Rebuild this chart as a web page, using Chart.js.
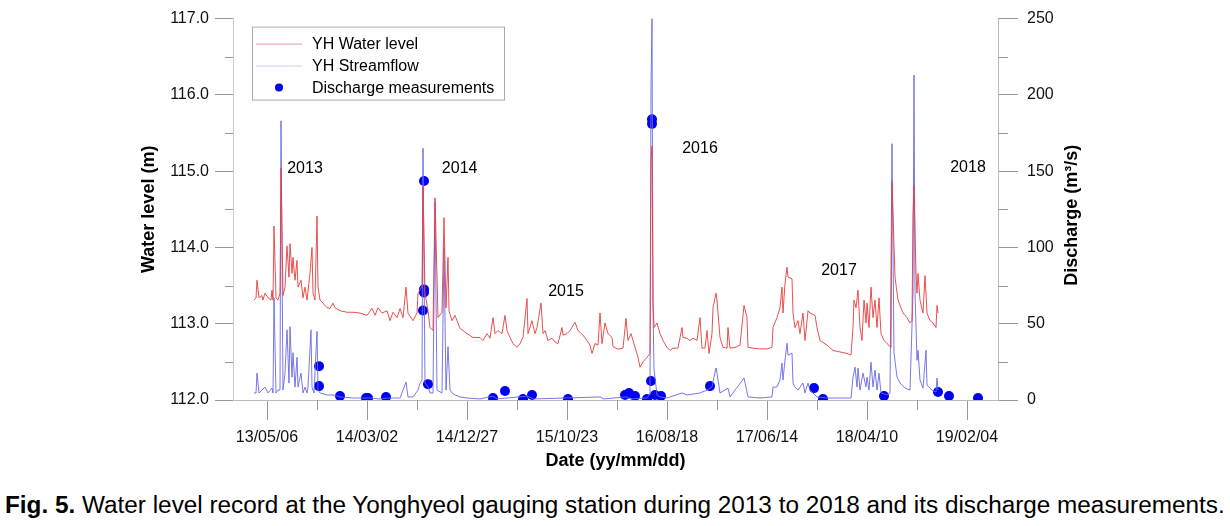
<!DOCTYPE html>
<html>
<head>
<meta charset="utf-8">
<script src="https://cdn.jsdelivr.net/npm/chart.js@4.4.1/dist/chart.umd.min.js"></script>
<style>
  body { margin: 0; background: #fff; }
  #wrap { position: relative; width: 1230px; height: 526px; overflow: hidden; }
  #chart { position: absolute; left: 0; top: 0; }
  #caption {
    position: absolute; left: 5px; top: 492px; white-space: nowrap;
    font: 23px "Liberation Sans", Arial, sans-serif; line-height: 26px; color: #000;
    transform-origin: 0 0;
  }
</style>
</head>
<body>
<div id="wrap">
  <canvas id="chart" width="1230" height="480"></canvas>
  <div id="caption"><b>Fig. 5.</b> Water level record at the Yonghyeol gauging station during 2013 to 2018 and its discharge measurements.</div>
</div>
<script>
// x values are days counted from 2013-05-06 (the first labelled tick)
const DAY0 = Date.UTC(2013, 4, 6);
const xMin = -102, xMax = 2193;
const xTickDays = [0, 300, 600, 900, 1200, 1500, 1800, 2100];
const xMinorDays = [150, 450, 750, 1050, 1350, 1650, 1950];
const levelTicks = [112, 113, 114, 115, 116, 117];
const levelMinor = [112.5, 113.5, 114.5, 115.5, 116.5];
const flowTicks = [0, 50, 100, 150, 200, 250];
const flowMinor = [25, 75, 125, 175, 225];

// [day, water level (m)]
const waterLevel = [
  [-39,113.31],[-33,113.34],[-30,113.57],[-24,113.34],[-15,113.37],[-12,113.31],[-6,113.40],[3,113.34],
  [12,113.31],[15,113.44],[18,113.31],[21,114.28],[27,113.34],[33,113.31],[39,113.40],[42,115.04],
  [48,113.37],[54,113.48],[60,114.02],[66,113.61],[69,114.05],[75,113.66],[78,113.87],[84,113.57],
  [90,113.83],[93,113.48],[102,113.57],[108,113.34],[114,113.48],[120,113.31],[129,113.66],[135,114.00],
  [138,113.40],[144,113.31],[150,114.41],[153,113.48],[159,113.31],[168,113.27],[180,113.21],[189,113.20],
  [198,113.27],[204,113.21],[219,113.17],[240,113.15],[258,113.15],[279,113.14],[300,113.11],[315,113.20],
  [324,113.11],[333,113.21],[345,113.14],[360,113.17],[369,113.04],[378,113.15],[390,113.08],[399,113.20],
  [408,113.08],[417,113.48],[423,113.14],[438,113.04],[450,113.14],[453,113.40],[459,113.44],[465,113.50],
  [468,114.81],[474,113.40],[483,113.17],[489,112.95],[498,112.91],[504,114.65],[513,113.08],[525,113.15],
  [531,114.39],[537,113.21],[543,113.87],[546,113.17],[555,113.04],[564,113.11],[570,113.04],[579,112.94],
  [600,112.87],[618,112.82],[639,112.82],[648,112.78],[660,112.87],[669,112.81],[678,113.08],[684,112.87],
  [693,112.91],[705,112.87],[714,113.11],[720,112.91],[729,112.82],[738,112.74],[750,112.69],[759,112.74],
  [768,112.82],[780,113.33],[783,112.87],[795,113.04],[804,112.87],[810,112.95],[822,113.27],[828,112.87],
  [834,112.91],[843,112.78],[855,112.81],[864,112.76],[873,112.74],[885,112.95],[888,112.85],[900,112.87],
  [909,112.91],[924,113.02],[933,112.91],[948,112.85],[960,112.78],[969,112.72],[975,112.61],[984,112.74],
  [993,112.72],[999,113.14],[1005,112.74],[1014,113.01],[1023,112.87],[1035,112.82],[1038,112.70],[1050,112.67],
  [1059,112.67],[1068,112.68],[1077,113.07],[1083,112.78],[1092,112.87],[1098,112.78],[1104,112.69],[1113,112.56],
  [1119,112.43],[1128,112.50],[1140,112.56],[1149,112.61],[1152,115.13],[1155,115.33],[1158,113.31],[1161,112.95],
  [1170,113.01],[1179,112.87],[1188,112.78],[1200,112.69],[1209,112.65],[1218,112.68],[1233,112.68],[1245,112.95],
  [1248,112.82],[1260,112.81],[1269,112.78],[1278,112.81],[1290,112.78],[1299,113.08],[1305,112.68],[1314,112.68],
  [1320,112.91],[1326,112.61],[1335,112.87],[1338,113.21],[1347,113.40],[1350,113.31],[1359,112.82],[1368,112.69],
  [1380,112.68],[1383,112.95],[1389,112.68],[1404,112.69],[1419,112.72],[1431,113.24],[1440,113.08],[1443,112.69],
  [1458,112.68],[1479,112.67],[1500,112.67],[1515,112.69],[1518,112.95],[1530,113.08],[1539,113.21],[1545,113.48],
  [1548,113.14],[1554,113.53],[1560,113.74],[1563,113.61],[1575,113.59],[1578,113.14],[1584,112.95],[1593,113.04],
  [1599,112.87],[1608,113.14],[1614,112.78],[1623,113.17],[1629,113.14],[1644,113.11],[1650,112.95],[1659,112.78],
  [1680,112.72],[1698,112.65],[1719,112.63],[1740,112.61],[1752,112.59],[1758,112.95],[1761,113.31],[1767,113.21],
  [1773,113.44],[1779,112.95],[1785,112.78],[1791,113.31],[1797,113.01],[1800,113.27],[1806,112.95],[1812,113.48],
  [1818,113.08],[1824,113.31],[1830,112.95],[1836,113.34],[1842,112.87],[1851,112.78],[1860,112.74],[1872,112.69],
  [1875,114.87],[1884,113.61],[1893,113.31],[1908,113.14],[1920,113.08],[1929,113.01],[1935,113.04],[1938,114.44],
  [1941,114.81],[1947,113.66],[1950,113.40],[1953,113.66],[1959,113.31],[1968,113.14],[1974,113.63],[1980,113.14],
  [1989,113.04],[1998,113.01],[2007,112.95],[2010,113.24],[2013,113.14]
];

// [day, streamflow (m3/s)]
const streamflow = [
  [-39,4.6],[-33,4.6],[-30,17.6],[-24,4.6],[-15,6.5],[-6,8.5],[3,4.6],[15,7.8],[18,4.6],[21,67],[27,4.6],
  [33,6.5],[39,6.5],[42,183],[48,6.5],[54,17.6],[60,46],[66,11.1],[69,48],[75,15.0],[78,31],[84,8.5],[90,28],
  [93,8.5],[102,17.6],[108,4.6],[114,8.5],[120,4.6],[123,8.5],[132,46],[135,8.5],[141,4.6],[150,45],[153,6.5],
  [159,4.6],[180,3.3],[198,3.3],[219,2.0],[258,1.3],[300,1.3],[315,1.3],[333,0.7],[369,1.3],[399,1.3],[417,11.7],
  [423,2.0],[438,2.0],[453,6.5],[459,11.1],[465,13.1],[468,165],[474,11.1],[483,8.5],[489,4.6],[498,4.6],[504,130],
  [510,6.5],[525,4.6],[531,100],[537,6.5],[543,35],[549,6.5],[555,4.6],[564,3.3],[579,2.0],[600,1.3],[639,0.7],
  [678,2.5],[690,0.7],[780,2.5],[800,0.7],[1000,2.0],[1010,0.7],[1077,2.0],[1090,0.7],[1140,1.3],[1149,4.6],
  [1152,205],[1155,250],[1158,60],[1161,20],[1170,3.3],[1179,2.0],[1200,1.3],[1245,4.6],[1260,3.3],[1299,4.6],
  [1320,6.5],[1335,8.5],[1341,15],[1347,21],[1350,17.6],[1359,4.6],[1383,7.8],[1389,2.0],[1431,14.4],[1443,2.0],
  [1479,1.3],[1515,2.0],[1518,8.5],[1530,8.5],[1539,13.1],[1545,24.2],[1548,13.1],[1554,26.1],[1560,37.2],
  [1563,29.4],[1575,30.7],[1578,11.1],[1584,8.5],[1593,6.5],[1608,11.1],[1614,4.6],[1623,11.1],[1629,6.5],
  [1650,2.0],[1680,1.3],[1752,1.3],[1758,15.0],[1764,21.5],[1770,8.5],[1773,20.9],[1779,6.5],[1788,17.6],
  [1797,8.5],[1800,15.0],[1806,6.5],[1812,24.8],[1818,8.5],[1824,19.6],[1830,6.5],[1836,17.6],[1842,4.6],
  [1860,3.3],[1869,4.6],[1875,168],[1881,30.7],[1890,15.0],[1899,11.1],[1914,7.8],[1929,6.5],[1938,70],
  [1941,213],[1944,70],[1950,26],[1953,32.6],[1959,13.1],[1968,7.8],[1977,32.6],[1980,9.8],[1995,6.5],
  [2007,5.2],[2010,14.4],[2013,6.5]
];

// [day, measured discharge (m3/s)]
const measured = [
  [156,22.2],[156,9.1],[219,2.6],[297,1.3],[303,1.3],[357,2.0],[471,143.6],[471,72.5],[471,70.5],[468,58.7],
  [483,10.4],[678,1.3],[714,5.9],[768,0.7],[795,3.3],[903,0.7],[1074,3.3],[1086,4.6],[1104,2.6],[1140,0.7],
  [1152,12.4],[1155,184],[1155,181],[1164,3.3],[1182,2.6],[1329,9.1],[1641,7.8],[1668,0.7],[1851,2.6],
  [2013,5.2],[2046,2.6],[2133,1.3]
];

// [text, day, water level]
const yearLabels = [
  ['2013', 114, 115.04], ['2014', 578, 115.04], ['2015', 897, 113.42],
  ['2016', 1299, 115.30], ['2017', 1716, 113.70], ['2018', 2103, 115.05]
];

const FONT = '"Liberation Sans", Arial, sans-serif';
const RED = 'rgb(232,60,60)';
const BLUE = 'rgb(105,105,232)';
const DOT = 'rgb(0,0,240)';

function fmtDate(d) {
  const t = new Date(DAY0 + d * 864e5);
  const p = n => String(n).padStart(2, '0');
  return p(t.getUTCFullYear() % 100) + '/' + p(t.getUTCMonth() + 1) + '/' + p(t.getUTCDate());
}
const toXY = arr => arr.map(([x, y]) => ({ x, y }));

const decor = {
  id: 'decor',
  afterDatasetsDraw(chart) {
    const { ctx, scales } = chart;
    ctx.save();
    // year labels
    ctx.fillStyle = '#000';
    ctx.font = '16px ' + FONT;
    ctx.textAlign = 'center';
    ctx.textBaseline = 'middle';
    yearLabels.forEach(([t, d, v]) => {
      ctx.fillText(t, scales.x.getPixelForValue(d), scales.y.getPixelForValue(v));
    });
    ctx.restore();
  },
  afterDraw(chart) {
    const { ctx, chartArea: a, scales } = chart;
    ctx.save();
    // minor ticks
    ctx.strokeStyle = '#999';
    ctx.lineWidth = 1;
    ctx.beginPath();
    xMinorDays.forEach(d => {
      const px = Math.round(scales.x.getPixelForValue(d)) + 0.5;
      ctx.moveTo(px, a.bottom); ctx.lineTo(px, a.bottom + 10);
    });
    levelMinor.forEach(v => {
      const py = Math.round(scales.y.getPixelForValue(v)) + 0.5;
      ctx.moveTo(a.left - 8, py); ctx.lineTo(a.left, py);
    });
    flowMinor.forEach(v => {
      const py = Math.round(scales.yQ.getPixelForValue(v)) + 0.5;
      ctx.moveTo(a.right, py); ctx.lineTo(a.right + 10, py);
    });
    ctx.stroke();

    // right axis title, reading bottom to top
    ctx.fillStyle = '#000';
    ctx.font = 'bold 18px ' + FONT;
    ctx.textAlign = 'center';
    ctx.textBaseline = 'middle';
    ctx.translate(a.right + 74, (a.top + a.bottom) / 2 + 6);
    ctx.rotate(-Math.PI / 2);
    ctx.fillText('Discharge (m³/s)', 0, 0);
    ctx.setTransform(1, 0, 0, 1, 0, 0);

    // legend box
    const lx = a.left + 19, ly = a.top + 8;
    ctx.fillStyle = '#fff';
    ctx.fillRect(lx, ly, 252, 73);
    ctx.strokeStyle = '#aaa';
    ctx.strokeRect(lx + 0.5, ly + 0.5, 252, 73);
    const items = [
      { text: 'YH Water level', kind: 'line', color: 'rgba(225,80,80,0.6)' },
      { text: 'YH Streamflow', kind: 'line', color: 'rgba(120,120,225,0.35)' },
      { text: 'Discharge measurements', kind: 'dot', color: DOT }
    ];
    ctx.font = '16px ' + FONT;
    ctx.textAlign = 'left';
    items.forEach((it, i) => {
      const cy = ly + 17 + i * 22;
      if (it.kind === 'line') {
        ctx.strokeStyle = it.color;
        ctx.beginPath();
        ctx.moveTo(lx + 4, cy + 0.5); ctx.lineTo(lx + 50, cy + 0.5);
        ctx.stroke();
      } else {
        ctx.fillStyle = it.color;
        ctx.beginPath();
        ctx.arc(lx + 27, cy, 4, 0, Math.PI * 2);
        ctx.fill();
      }
      ctx.fillStyle = '#000';
      ctx.fillText(it.text, lx + 60, cy + 1);
    });
    ctx.restore();
  }
};

new Chart(document.getElementById('chart'), {
  type: 'scatter',
  data: {
    datasets: [
      { label: 'YH Water level', data: toXY(waterLevel), yAxisID: 'y', showLine: true,
        borderColor: RED, borderWidth: 0.9, pointRadius: 0, order: 1 },
      { label: 'YH Streamflow', data: toXY(streamflow), yAxisID: 'yQ', showLine: true,
        borderColor: BLUE, borderWidth: 0.9, pointRadius: 0, order: 2 },
      { label: 'Discharge measurements', data: toXY(measured), yAxisID: 'yQ', showLine: false,
        pointRadius: 5, pointBackgroundColor: DOT, pointBorderWidth: 0, order: 3 }
    ]
  },
  options: {
    responsive: false,
    animation: false,
    devicePixelRatio: 1,
    events: [],
    layout: { padding: { left: 136, right: 0, top: 17, bottom: 4 } },
    plugins: { legend: { display: false }, tooltip: { enabled: false } },
    scales: {
      x: {
        type: 'linear', min: xMin, max: xMax,
        afterBuildTicks: s => { s.ticks = xTickDays.map(v => ({ value: v })); },
        afterFit: s => { s.height = 76; },
        ticks: { callback: v => fmtDate(v), font: { size: 16, family: FONT }, color: '#111',
                 padding: 8, maxRotation: 0, autoSkip: false },
        grid: { drawOnChartArea: false, tickLength: 20, tickColor: '#999' },
        border: { color: '#bbb' },
        title: { display: true, text: 'Date (yy/mm/dd)', color: '#000',
                 font: { size: 18, weight: 'bold', family: FONT }, padding: { top: 0, bottom: 4 } }
      },
      y: {
        position: 'left', min: 112, max: 117,
        afterBuildTicks: s => { s.ticks = levelTicks.map(v => ({ value: v })); },
        afterFit: s => { s.width = 97; },
        ticks: { callback: v => v.toFixed(1), font: { size: 16, family: FONT }, color: '#111', padding: 6 },
        grid: { drawOnChartArea: false, tickLength: 18, tickColor: '#999' },
        border: { color: '#ccc' },
        title: { display: true, text: 'Water level (m)', color: '#000',
                 font: { size: 18, weight: 'bold', family: FONT }, padding: { top: 2, bottom: 0 } }
      },
      yQ: {
        position: 'right', min: 0, max: 250,
        afterBuildTicks: s => { s.ticks = flowTicks.map(v => ({ value: v })); },
        afterFit: s => { s.width = 232; },
        ticks: { font: { size: 16, family: FONT }, color: '#111', padding: 9 },
        grid: { drawOnChartArea: false, tickLength: 20, tickColor: '#999' },
        border: { color: '#bbb' }
      }
    }
  },
  plugins: [decor]
});

// the printed caption is set in a condensed face: squeeze it to the figure width
const cap = document.getElementById('caption');
cap.style.transform = 'scaleX(' + (1220 / cap.offsetWidth) + ')';
</script>
</body>
</html>
